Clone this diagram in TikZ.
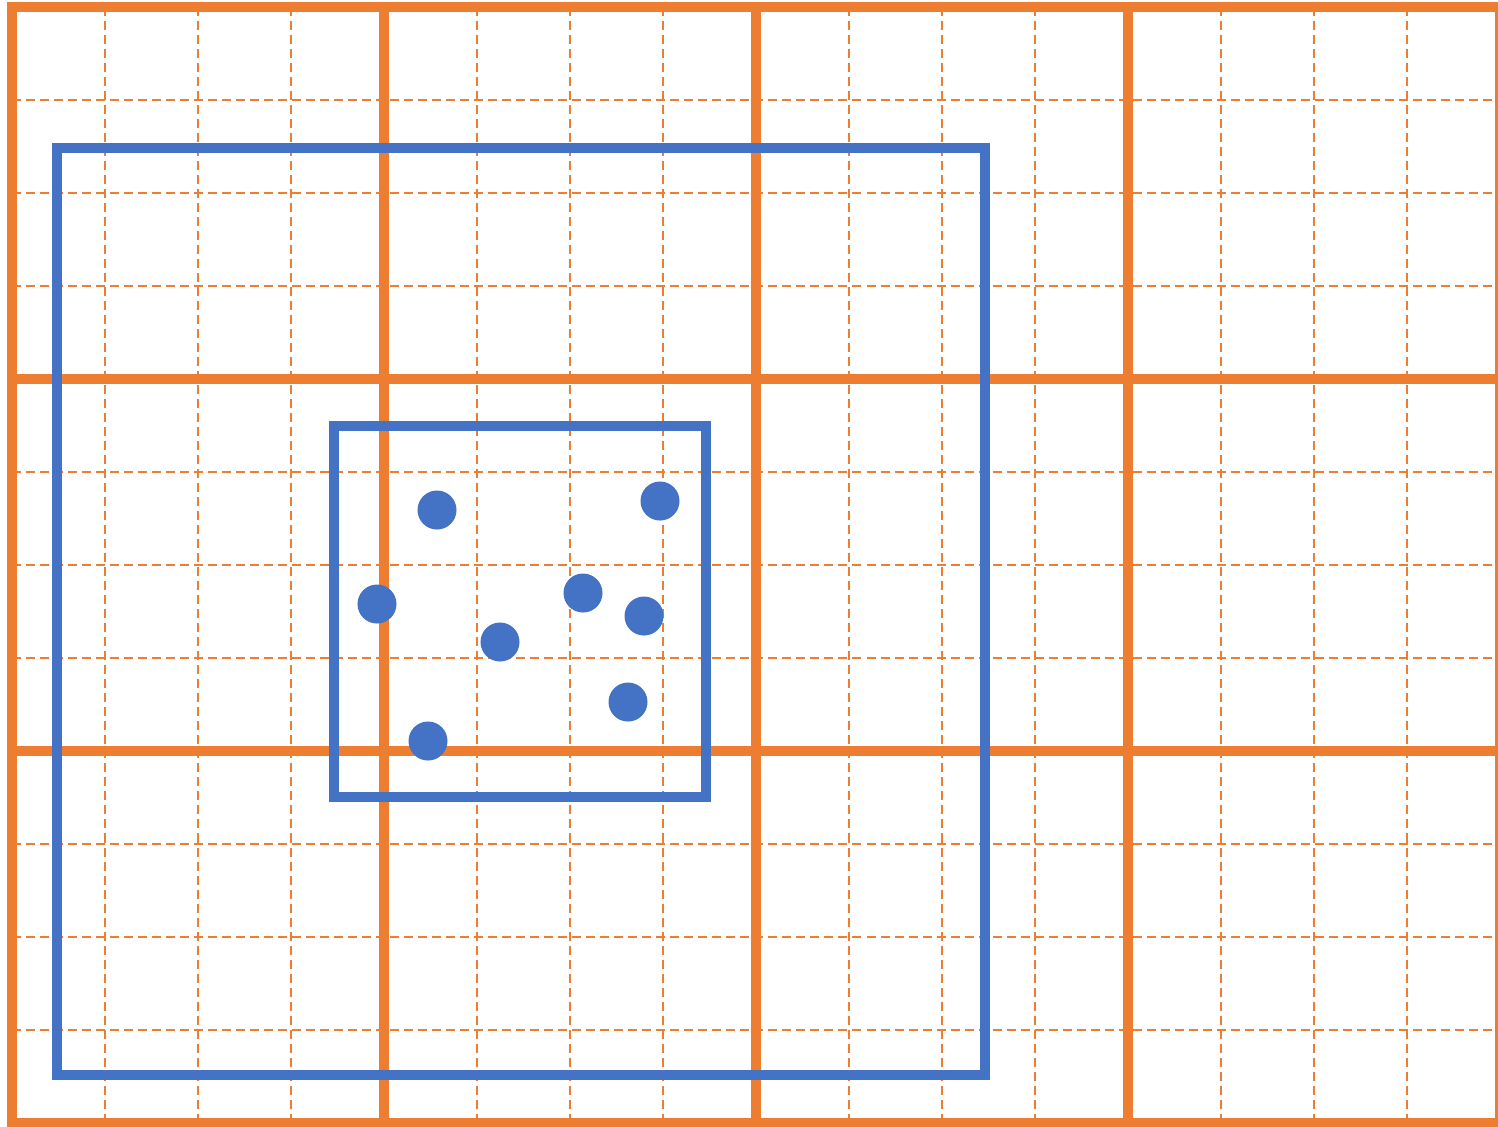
\documentclass[tikz,border=0pt]{standalone}
\usepackage{tikz}
\definecolor{gridorange}{RGB}{237,125,49}
\definecolor{boxblue}{RGB}{68,114,196}
\tikzset{
  fine/.style={draw=gridorange, line width=0.7pt, dash pattern=on 0.09cm off 0.05cm},
  coarse/.style={draw=gridorange, line width=0.1cm},
  window/.style={draw=boxblue, line width=0.1cm},
  dot/.style={circle, fill=boxblue, inner sep=0pt, minimum size=0.39cm}
}

\begin{document}
\begin{tikzpicture}[x=0.01cm, y=-0.01cm]
  \useasboundingbox (0,0) rectangle (1498,1126);
  \clip (0,0) rectangle (1498,1126);
  % fine dashed grid
  \foreach \i in {1,...,15} {
    \draw[fine] (12+93*\i,7) -- (12+93*\i,1122);
  }
  \foreach \j in {1,...,11} {
    \draw[fine] (12,7+93*\j) -- (1498,7+93*\j);
  }
  % coarse grid
  \foreach \i in {0,...,4} {
    \draw[coarse] (12+372*\i,2) -- (12+372*\i,1126);
  }
  \foreach \j in {0,...,3} {
    \draw[coarse] (7,7+372*\j) -- (1498,7+372*\j);
  }
  % windows
  \draw[window] (57,148) rectangle (985,1075);
  \draw[window] (334,426) rectangle (706,797);
  % points
  \node[dot] (pt1) at (437,510) {};
  \node[dot] (pt2) at (660,501) {};
  \node[dot] (pt3) at (377,604) {};
  \node[dot] (pt4) at (583,593) {};
  \node[dot] (pt5) at (644,616) {};
  \node[dot] (pt6) at (500,642) {};
  \node[dot] (pt7) at (628,702) {};
  \node[dot] (pt8) at (428,741) {};
\end{tikzpicture}
\end{document}
